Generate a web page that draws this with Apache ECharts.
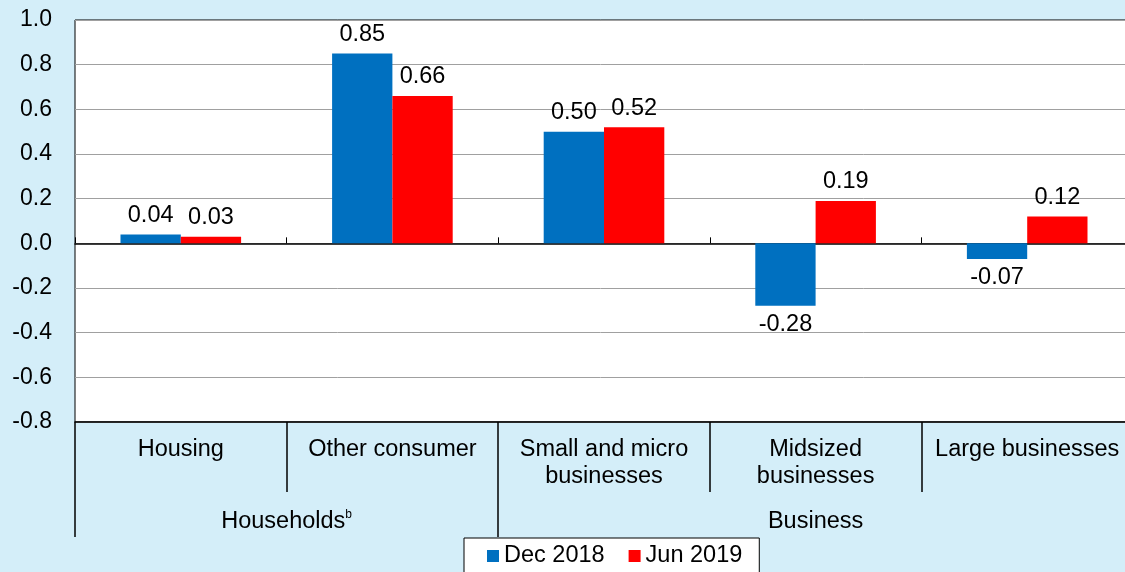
<!DOCTYPE html>
<html>
<head>
<meta charset="utf-8">
<script src="https://cdn.jsdelivr.net/npm/echarts@6/dist/echarts.min.js"></script>
<style>
  html, body { margin: 0; padding: 0; background: #D4EEF9; }
  #chart { width: 1125px; height: 572px; }
</style>
</head>
<body>
<div id="chart"></div>
<script>
// 分类与数据
var categories = ['Housing', 'Other consumer', 'Small and micro\nbusinesses', 'Midsized\nbusinesses', 'Large businesses'];
var groupNames = ['Households', 'Business'];
var groupCenters = [1, 3.5];   // 组标签在 0..5 轴上的位置
var groupBounds = [0, 2];      // 组分隔线
var dec2018 = [0.04, 0.85, 0.50, -0.28, -0.07];
var jun2019 = [0.03, 0.66, 0.52, 0.19, 0.12];
var seriesNames = ['Dec 2018', 'Jun 2019'];

var FONT = 'Liberation Sans, Arial, sans-serif';
var FS = 23.5;

// 正值标签在上，负值在下
function withLabels(arr) {
  return arr.map(function (v) {
    return { value: v, label: { position: v < 0 ? 'bottom' : 'top' } };
  });
}

var chart = echarts.init(document.getElementById('chart'));

var barLabel = {
  show: true,
  fontSize: FS,
  fontFamily: FONT,
  color: '#000',
  distance: 7,
  formatter: function (p) { return p.value.toFixed(2); }
};

chart.setOption({
  backgroundColor: '#D4EEF9',
  animation: false,
  grid: {
    left: 75, width: 1058, top: 20, bottom: 150,
    outerBoundsMode: 'none',
    show: true,
    backgroundColor: '#fff',
    borderColor: '#000',
    borderWidth: 1
  },
  legend: {
    data: seriesNames,
    left: 464, top: 538,
    icon: 'rect',
    itemWidth: 12, itemHeight: 12, itemGap: 24,
    backgroundColor: '#fff',
    borderColor: '#000',
    borderWidth: 1,
    borderRadius: 0,
    padding: [6, 17, 10, 23],
    textStyle: { fontSize: FS, fontFamily: FONT, color: '#000' }
  },
  xAxis: [{
    // 零线上的小刻度
    type: 'category',
    data: categories,
    axisLine: { onZero: true, lineStyle: { color: '#000', width: 1.5 } },
    axisTick: { show: true, interval: 0, inside: true, length: 6, lineStyle: { color: '#000' } },
    axisLabel: { show: false, interval: 0 }
  }, {
    // 底部分类标签
    type: 'category',
    data: categories,
    position: 'bottom',
    axisLine: { onZero: false, lineStyle: { color: '#000', width: 1.5 } },
    axisTick: { show: true, interval: 0, length: 70, lineStyle: { color: '#000', width: 1.5 } },
    axisLabel: { interval: 0, fontSize: FS, fontFamily: FONT, color: '#000', margin: 14, lineHeight: 27 }
  }, {
    // 分组标签
    type: 'value',
    min: 0, max: 5,
    position: 'bottom',
    axisLine: { show: false, onZero: false },
    splitLine: { show: false },
    axisTick: { show: true, customValues: groupBounds, length: 115, lineStyle: { color: '#000', width: 1.5 } },
    axisLabel: {
      customValues: groupCenters,
      margin: 87,
      formatter: function (v) {
        var i = groupCenters.indexOf(v);
        if (i === 0) return '{a|' + groupNames[0] + '}{s|b}';
        return '{a|' + groupNames[i] + '}';
      },
      rich: {
        a: { fontSize: FS, fontFamily: FONT, color: '#000', lineHeight: 26 },
        s: { fontSize: 12, fontFamily: FONT, color: '#000', verticalAlign: 'top', lineHeight: 26, padding: [0, 0, 36, 0] }
      }
    }
  }],
  yAxis: {
    type: 'value',
    min: -0.8, max: 1.0, interval: 0.2,
    axisLine: { show: false },
    axisTick: { show: false },
    splitLine: { lineStyle: { color: '#A0A0A0', width: 1 } },
    axisLabel: {
      fontSize: 23, fontFamily: FONT, color: '#000', margin: 23,
      formatter: function (v) { return v.toFixed(1); }
    }
  },
  series: [{
    name: seriesNames[0],
    type: 'bar',
    xAxisIndex: 0,
    data: withLabels(dec2018),
    itemStyle: { color: '#0070C0' },
    barGap: '0%',
    barCategoryGap: '43%',
    label: barLabel
  }, {
    name: seriesNames[1],
    type: 'bar',
    xAxisIndex: 0,
    data: withLabels(jun2019),
    itemStyle: { color: '#FF0000' },
    barGap: '0%',
    barCategoryGap: '43%',
    label: barLabel
  }]
});
</script>
</body>
</html>
